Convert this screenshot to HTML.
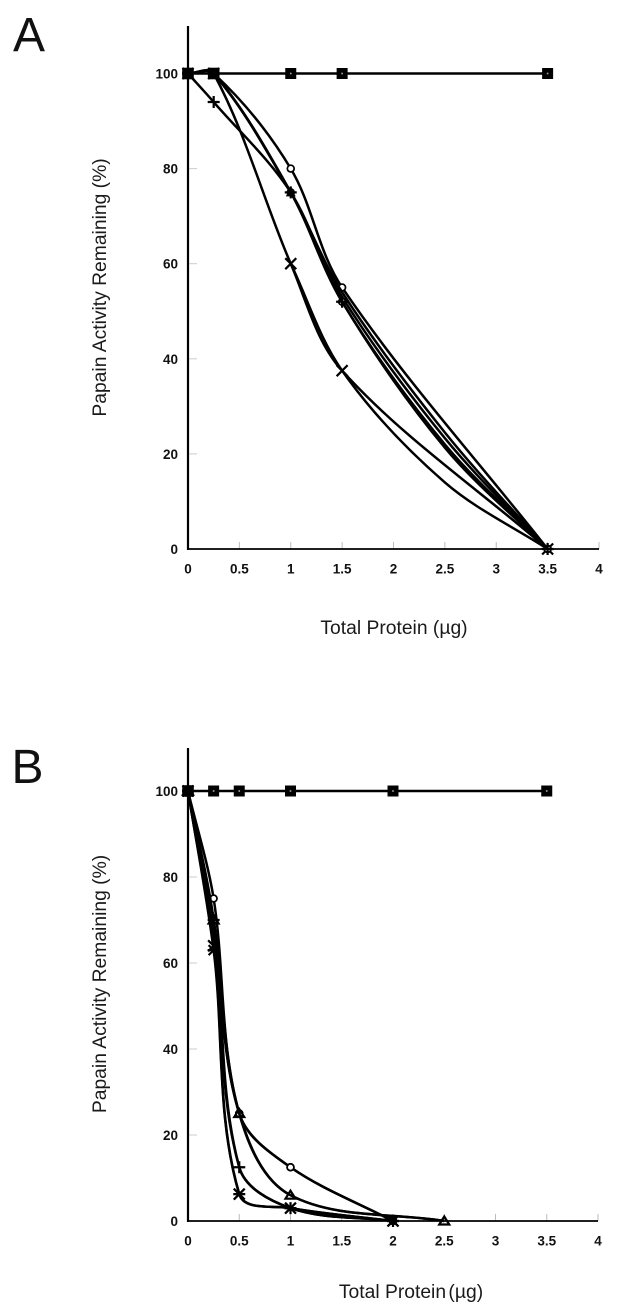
<!DOCTYPE html>
<html lang="en">
<head>
<meta charset="utf-8">
<title>Papain Activity Remaining vs Total Protein</title>
<style>
html,body{margin:0;padding:0;background:#fff;width:619px;height:1312px;overflow:hidden}
svg{display:block;filter:blur(0.35px)}
text{font-family:"Liberation Sans",sans-serif;fill:#111}
.tick{font-weight:bold;font-size:13.5px}
.title{font-size:19.3px;fill:#1a1a1a}
.letter{font-size:48px;fill:#111}
</style>
</head>
<body>
<svg id="figure" width="619" height="1312" viewBox="0 0 619 1312" xmlns="http://www.w3.org/2000/svg">
<text class="letter" x="13" y="51">A</text>
<text class="letter" x="11.5" y="783">B</text>
<text class="title" x="394" y="634" text-anchor="middle">Total Protein (µg)</text>
<text class="title" x="411" y="1298" text-anchor="middle">Total Protein<tspan dx="-3"> (µg)</tspan></text>
<text class="title" transform="translate(106,287.5) rotate(-90)" text-anchor="middle">Papain Activity Remaining (%)</text>
<text class="title" transform="translate(106,984) rotate(-90)" text-anchor="middle">Papain Activity Remaining (%)</text>
</svg>
<script>
// Tick labels
const xTickValues = [0, 0.5, 1, 1.5, 2, 2.5, 3, 3.5, 4];
const yTickValues = [0, 20, 40, 60, 80, 100];

// Panel A data: protein doses and activity values
const aDoses = [0, 0.25, 1, 1.5, 3.5];
const aCurvedDoses = [0, 0.25, 1, 1.5, 2.5, 3.5];
const aMarkedDoses = [0, 0.25, 1, 1.5, 3.5];
const aControl = [100, 100, 100, 100, 100];
const aCircle = [100, 100, 80, 55, 0];
const aTriangle = [100, 100, 75, 54, 24.5, 0];
const aMiddle = [100, 100, 75, 53, 23.3, 0];
const aLowCircle = [100, 100, 75, 52, 22, 0];
const aPlus = [100, 94, 75, 52, 21.3, 0];
const aCross = [100, 100, 60, 37.5, 0];
const aTailDoses = [1, 1.5, 2.5, 3.5];
const aTail = [60, 37.5, 14, 0];
const aOverlapDoses = [0, 0.25];
const aOverlap = [100, 100];

// Panel B data
const bControlDoses = [0, 0.25, 0.5, 1, 2, 3.5];
const bControl = [100, 100, 100, 100, 100, 100];
const bDoses = [0, 0.25, 0.5, 1, 2];
const bLongDoses = [0, 0.25, 0.5, 1, 2.5];
const bCircle = [100, 75, 25, 12.5, 0];
const bDiamond = [100, 70, 25, 12.5, 0];
const bTriangle = [100, 70, 25, 6, 0];
const bTriangleTwin = [100, 65, 25, 6, 0];
const bPlus = [100, 70, 12.5, 3, 0];
const bPlusTwin = [100, 66, 12.5, 3, 0];
const bCross = [100, 64, 6.25, 3, 0];
const bStar = [100, 63, 6.25, 3, 0];
const bOverlapDoses = [0];
const bOverlap = [100];

const NS = 'http://www.w3.org/2000/svg';
const figure = document.getElementById('figure');

function make(tag, attrs, parent) {
  const el = document.createElementNS(NS, tag);
  for (const k in attrs) el.setAttribute(k, attrs[k]);
  parent.appendChild(el);
  return el;
}

// Smoothed line: tangent along neighbours, handle length tied to the segment length
function tangent(a, c) {
  const dx = c[0] - a[0], dy = c[1] - a[1];
  const len = Math.hypot(dx, dy) || 1;
  return [dx / len, dy / len];
}
function smoothPath(pts) {
  let d = 'M' + pts[0][0] + ' ' + pts[0][1];
  for (let i = 0; i < pts.length - 1; i++) {
    const a = pts[Math.max(i - 1, 0)], b = pts[i], c = pts[i + 1], e = pts[Math.min(i + 2, pts.length - 1)];
    const h = Math.hypot(c[0] - b[0], c[1] - b[1]) * 0.33;
    const t1 = tangent(a, c), t2 = tangent(b, e);
    d += ' C' + (b[0] + t1[0] * h) + ' ' + (b[1] + t1[1] * h) +
         ' ' + (c[0] - t2[0] * h) + ' ' + (c[1] - t2[1] * h) +
         ' ' + c[0] + ' ' + c[1];
  }
  return d;
}

function drawMarker(group, kind, x, y) {
  const line = { stroke: '#000', 'stroke-width': 2.2, fill: 'none' };
  if (kind === 'square') {
    make('rect', { x: x - 5.5, y: y - 5.5, width: 11, height: 11, fill: '#000' }, group);
    make('rect', { x: x - 0.8, y: y - 0.8, width: 1.6, height: 1.6, fill: '#aaa' }, group);
  } else if (kind === 'solid') {
    make('rect', { x: x - 5.8, y: y - 5.8, width: 11.6, height: 11.6, fill: '#000' }, group);
  } else if (kind === 'circle') {
    make('circle', Object.assign({ cx: x, cy: y, r: 3.4 }, line, { 'stroke-width': 1.7, fill: '#fff' }), group);
  } else if (kind === 'triangle') {
    make('path', Object.assign({ d: 'M' + x + ' ' + (y - 4.5) + 'L' + (x + 5) + ' ' + (y + 3.5) + 'L' + (x - 5) + ' ' + (y + 3.5) + 'Z' }, line), group);
  } else if (kind === 'filled-triangle') {
    make('path', { d: 'M' + x + ' ' + (y - 5) + 'L' + (x + 5) + ' ' + (y + 4) + 'L' + (x - 5) + ' ' + (y + 4) + 'Z', fill: '#000' }, group);
  } else if (kind === 'plus') {
    make('path', Object.assign({ d: 'M' + (x - 6) + ' ' + y + 'H' + (x + 6) + 'M' + x + ' ' + (y - 6) + 'V' + (y + 6) }, line), group);
  } else if (kind === 'cross') {
    make('path', Object.assign({ d: 'M' + (x - 5.5) + ' ' + (y - 5.5) + 'L' + (x + 5.5) + ' ' + (y + 5.5) + 'M' + (x + 5.5) + ' ' + (y - 5.5) + 'L' + (x - 5.5) + ' ' + (y + 5.5) }, line), group);
  } else if (kind === 'star') {
    make('path', Object.assign({ d: 'M' + (x - 5) + ' ' + (y - 5) + 'L' + (x + 5) + ' ' + (y + 5) + 'M' + (x + 5) + ' ' + (y - 5) + 'L' + (x - 5) + ' ' + (y + 5) + 'M' + (x - 6) + ' ' + y + 'H' + (x + 6) }, line), group);
  }
}

function drawPanel(cfg) {
  const sx = v => cfg.x0 + (cfg.x4 - cfg.x0) * v / 4;
  const sy = v => cfg.y0 + (cfg.y100 - cfg.y0) * v / 100;
  const panel = make('g', {}, figure);
  
  

  xTickValues.forEach(v => {
    const tick = make('line', { x1: sx(v), x2: sx(v), y1: cfg.y0, y2: cfg.y0 - 7, stroke: '#bbb', 'stroke-width': 1 }, panel);
    
    
    const label = make('text', { class: 'tick', x: sx(v), y: cfg.y0 + 24.5, 'text-anchor': 'middle' }, panel);
    label.textContent = String(v);
    
    
  });
  yTickValues.forEach(v => {
    const tick = make('line', { x1: cfg.x0, x2: cfg.x0 + 9, y1: sy(v), y2: sy(v), stroke: '#ccc', 'stroke-width': 1 }, panel);
    
    
    const label = make('text', { class: 'tick', x: cfg.x0 - 10, y: sy(v) + 5, 'text-anchor': 'end' }, panel);
    label.textContent = String(v);
    
    
  });

  const yAxis = make('line', { x1: cfg.x0, x2: cfg.x0, y1: sy(110), y2: cfg.y0 + 1, stroke: '#000', 'stroke-width': 2.2 }, panel);
  
  
  const xAxis = make('line', { x1: cfg.x0, x2: sx(4), y1: cfg.y0, y2: cfg.y0, stroke: '#000', 'stroke-width': 1.8 }, panel);
  
  

  cfg.series.forEach(s => {
    const group = make('g', {}, panel);
    
    
    const pts = s.xs.map((x, i) => [sx(x), sy(s.ys[i])]);
    if (pts.length > 1 && s.marker !== 'solid') {
      make('path', { d: smoothPath(pts), fill: 'none', stroke: '#000', 'stroke-width': 2.5 }, group);
    }
    if (s.marker) {
      pts.forEach((p, i) => {
        if (!s.markedAt || s.markedAt.includes(s.xs[i])) drawMarker(group, s.marker, p[0], p[1]);
      });
    }
  });
}

drawPanel({
  name: 'panel-a-chart', x0: 188, x4: 599, y0: 549, y100: 73.5,
  series: [
    { key: 'tail', xs: aTailDoses, ys: aTail, marker: null },
    { key: 'cross', xs: aDoses, ys: aCross, marker: 'cross' },
    { key: 'circle', xs: aDoses, ys: aCircle, marker: 'circle' },
    { key: 'middle', xs: aCurvedDoses, ys: aMiddle, marker: null },
    { key: 'low-circle', xs: aCurvedDoses, ys: aLowCircle, marker: 'circle', markedAt: aMarkedDoses },
    { key: 'triangle', xs: aCurvedDoses, ys: aTriangle, marker: 'filled-triangle', markedAt: [1] },
    { key: 'plus', xs: aCurvedDoses, ys: aPlus, marker: 'plus', markedAt: aMarkedDoses },
    { key: 'control', xs: aDoses, ys: aControl, marker: 'square' },
    { key: 'overlap', xs: aOverlapDoses, ys: aOverlap, marker: 'solid' }
  ]
});

drawPanel({
  name: 'panel-b-chart', x0: 188, x4: 598, y0: 1221, y100: 791,
  series: [
    { key: 'circle', xs: bDoses, ys: bCircle, marker: 'circle' },
    { key: 'diamond', xs: bDoses, ys: bDiamond, marker: 'circle' },
    { key: 'triangle-twin', xs: bLongDoses, ys: bTriangleTwin, marker: null },
    { key: 'triangle', xs: bLongDoses, ys: bTriangle, marker: 'triangle' },
    { key: 'plus-twin', xs: bDoses, ys: bPlusTwin, marker: null },
    { key: 'plus', xs: bDoses, ys: bPlus, marker: 'plus' },
    { key: 'cross', xs: bDoses, ys: bCross, marker: 'cross' },
    { key: 'star', xs: bDoses, ys: bStar, marker: 'star' },
    { key: 'control', xs: bControlDoses, ys: bControl, marker: 'square' },
    { key: 'overlap', xs: bOverlapDoses, ys: bOverlap, marker: 'solid' }
  ]
});
</script>
</body>
</html>
